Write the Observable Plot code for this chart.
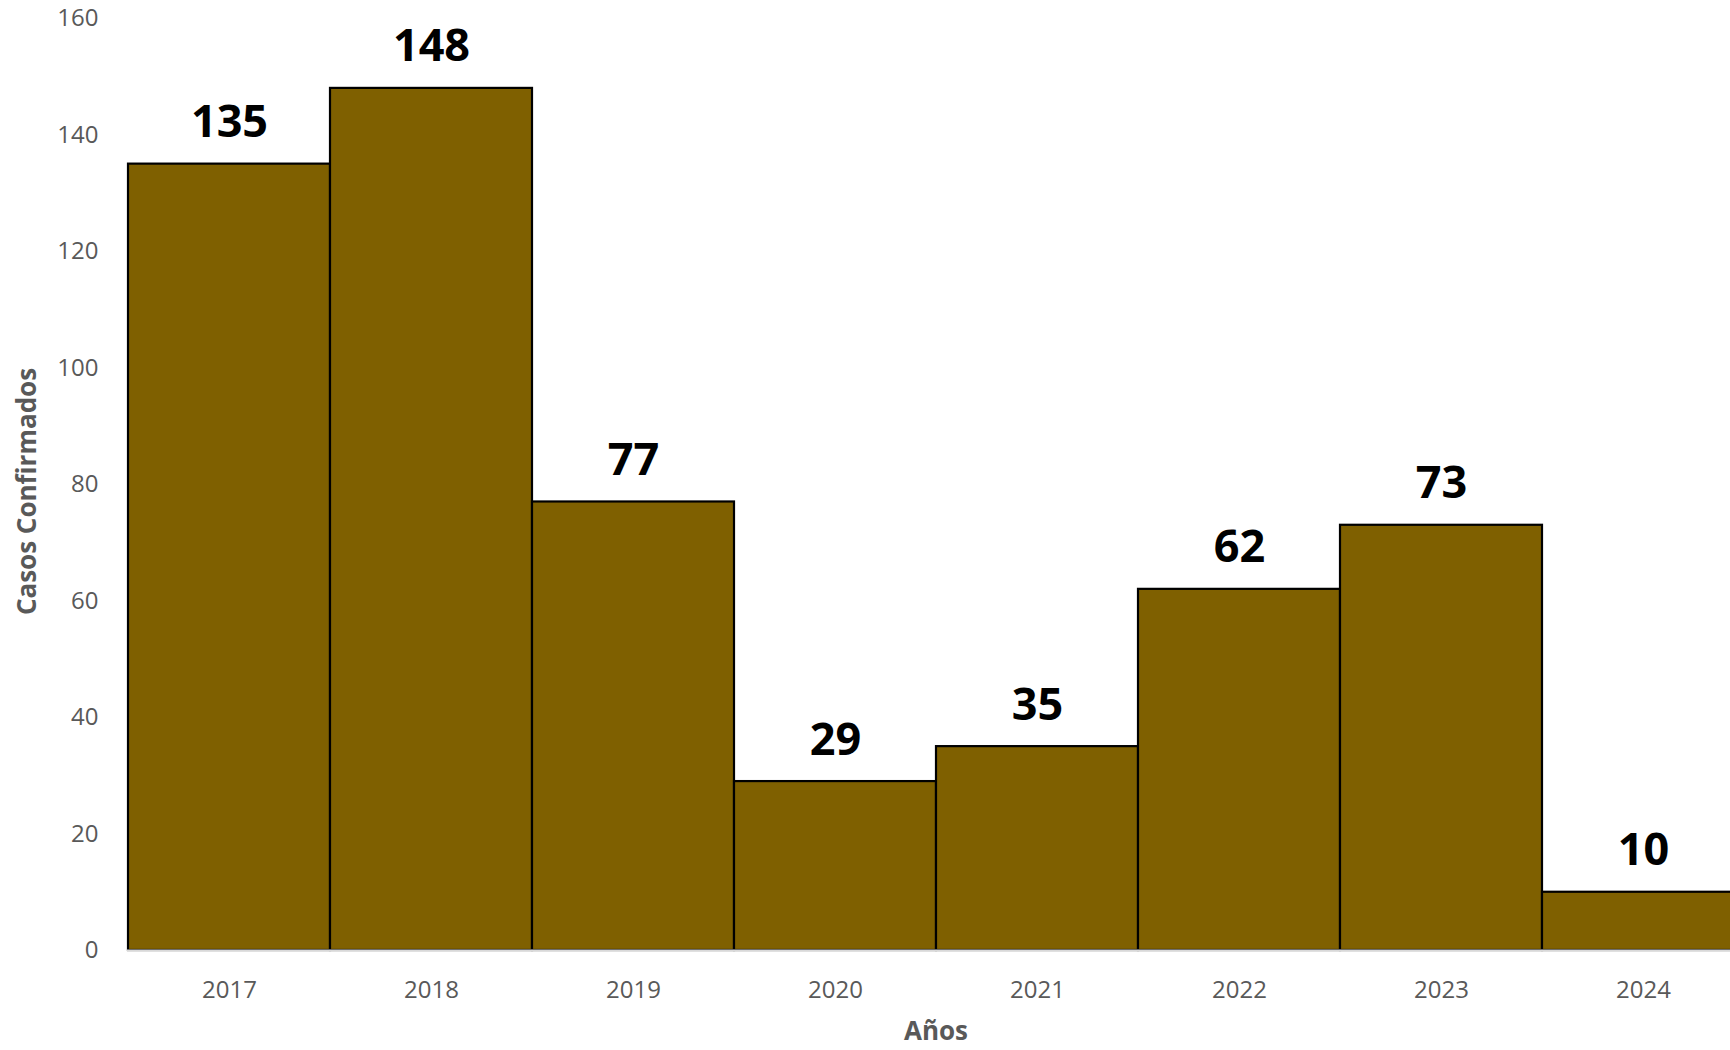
<!DOCTYPE html>
<html>
<head>
<meta charset="utf-8">
<script src="https://cdn.jsdelivr.net/npm/d3@7"></script>
<script src="https://cdn.jsdelivr.net/npm/@observablehq/plot@0.6"></script>
<style>
  html, body { margin: 0; padding: 0; background: #fff; overflow: hidden; }
</style>
</head>
<body>
<div id="chart"></div>
<script>
const years = ["2017", "2018", "2019", "2020", "2021", "2022", "2023", "2024"];
const cases = [135, 148, 77, 29, 35, 62, 73, 10];
const yTicks = [0, 20, 40, 60, 80, 100, 120, 140, 160];
const xTitle = "Años";
const yTitle = "Casos Confirmados";

const data = years.map((year, i) => ({year, cases: cases[i]}));

const chart = Plot.plot({
  width: 1730,
  height: 1050,
  marginLeft: 127,
  marginRight: 0,
  marginTop: 18,
  marginBottom: 100,
  style: {fontFamily: "'Open Sans', sans-serif", fontSize: "24px", color: "#595959", background: "#fff", overflow: "hidden"},
  x: {domain: years, range: [127, 1744], padding: 0, tickSize: 0, tickPadding: 30, label: null},
  y: {domain: [0, 160], ticks: yTicks, tickSize: 0, tickPadding: 29, label: null},
  marks: [
    Plot.barY(data, {x: "year", y: "cases", fill: "#7F6000", stroke: "#000", strokeWidth: 2.2}),
    Plot.ruleY([0], {stroke: "#D9D9D9", strokeWidth: 2}),
    Plot.text(data, {x: "year", y: "cases", text: d => String(d.cases), lineAnchor: "bottom", dy: -27,
      fontSize: 45, fontWeight: "bold", fill: "#000"}),
    Plot.text([xTitle], {frameAnchor: "bottom", textAnchor: "middle", lineAnchor: "bottom", dx: 7, dy: 89,
      fontSize: 26, fontWeight: "bold", fill: "#595959"}),
    Plot.text([yTitle], {frameAnchor: "left", textAnchor: "middle", lineAnchor: "middle", rotate: -90, dx: -100, dy: 7,
      fontSize: 26, fontWeight: "bold", fill: "#595959"})
  ]
});
document.getElementById("chart").appendChild(chart);
</script>
</body>
</html>
